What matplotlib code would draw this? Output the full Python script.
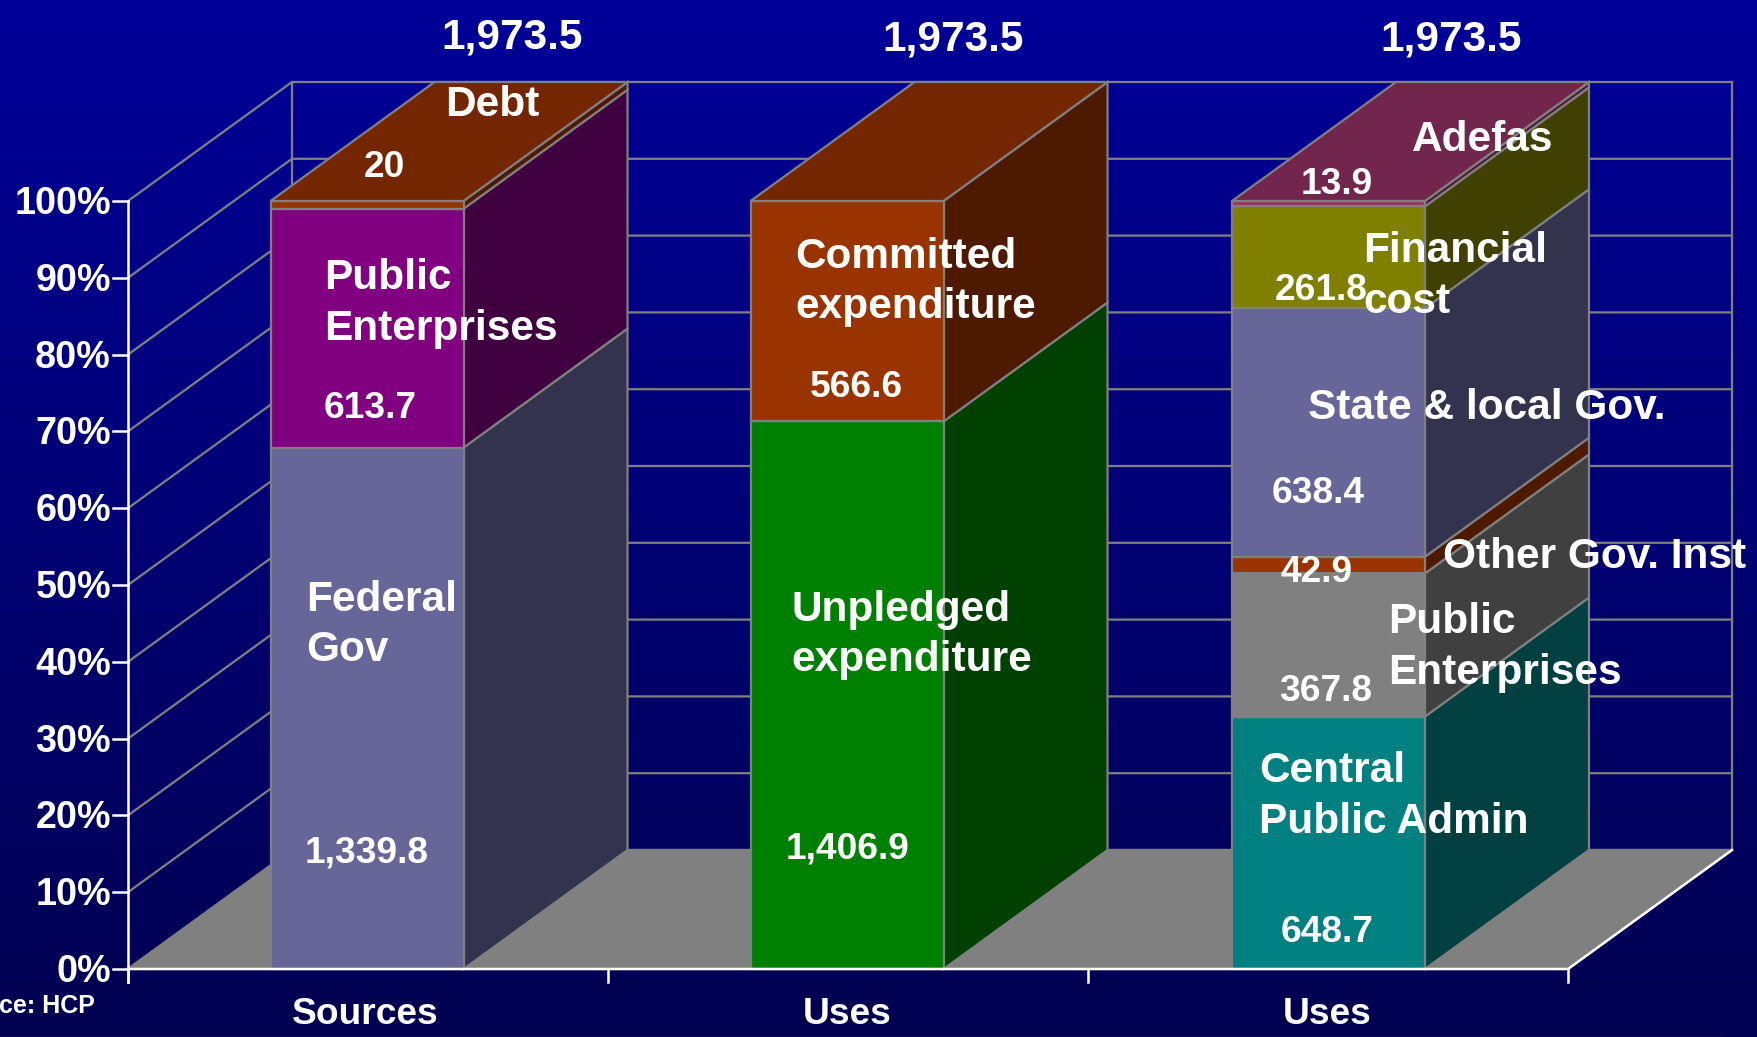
import numpy as np
import matplotlib
matplotlib.use('Agg')
import matplotlib.pyplot as plt
from matplotlib.colors import to_rgb, LinearSegmentedColormap
from matplotlib.patches import Polygon

plt.rcParams['font.family'] = ['Liberation Sans', 'DejaVu Sans']
plt.rcParams['font.weight'] = 'bold'

categories = ['Sources', 'Uses', 'Uses']
totals = ['1,973.5', '1,973.5', '1,973.5']
pct_ticks = [0, 10, 20, 30, 40, 50, 60, 70, 80, 90, 100]

sources_vals = [1339.8, 613.7, 20]
sources_cols = ['#666699', '#800080', '#993300']

uses_vals = [1406.9, 566.6]
uses_cols = ['#008000', '#993300']

uses2_vals = [648.7, 367.8, 42.9, 638.4, 261.8, 13.9]
uses2_cols = ['#008080', '#808080', '#993300', '#666699', '#808000', '#993366']

W, H = 1758, 1037
# pixel position of the front plane, and how far the 3d depth shifts things
X0, X_UNIT = 128, 480
Y0, Y_UNIT = 969, 7.68
DX = 164 / X_UNIT
DY = 119 / Y_UNIT
BAR_W = 0.402
GREY = '#808080'

fig = plt.figure(figsize=(W / 100, H / 100), dpi=100)
ax = fig.add_axes([0, 0, 1, 1])
xlim = (-X0 / X_UNIT, (W - X0) / X_UNIT)
ylim = ((Y0 - H) / Y_UNIT, Y0 / Y_UNIT)
ax.set_xlim(xlim)
ax.set_ylim(ylim)
ax.axis('off')

# background gradient
cmap = LinearSegmentedColormap.from_list('bg', ['#000099', '#000050'])
grad = np.linspace(0, 1, 256).reshape(-1, 1)
ax.imshow(grad, cmap=cmap, aspect='auto', origin='upper',
          extent=(xlim[0], xlim[1], ylim[0], ylim[1]), zorder=0)


def shade(col, f):
    return tuple(c * f for c in to_rgb(col))


def px(x, y):
    # picture coordinates of the shrunk reference -> data, text sits a bit low
    return (x * W / 1568 - X0) / X_UNIT, (Y0 - (y + 2.5) * H / 925) / Y_UNIT


def poly(pts, col, z=3, ec=GREY, lw=1.6):
    ax.add_patch(Polygon(pts, closed=True, fc=col, ec=ec, lw=lw, zorder=z, joinstyle='miter'))


# walls
for p in pct_ticks:
    ax.plot([0, DX, 3 + DX], [p, p + DY, p + DY], color=GREY, lw=1.6, zorder=1)
ax.plot([DX, DX], [DY, 100 + DY], color=GREY, lw=1.6, zorder=1)
ax.plot([3 + DX, 3 + DX], [DY, 100 + DY], color=GREY, lw=1.6, zorder=1)

# floor
poly([(0, 0), (3, 0), (3 + DX, DY), (DX, DY)], GREY, z=2)


def stacked_bar(centre, vals, cols):
    left = centre - BAR_W / 2
    right = left + BAR_W
    total = sum(vals)
    bottom = 0
    for v, c in zip(vals, cols):
        top = bottom + v / total * 100
        poly([(right, bottom), (right + DX, bottom + DY), (right + DX, top + DY), (right, top)],
             shade(c, 0.5))
        poly([(left, bottom), (right, bottom), (right, top), (left, top)], c)
        bottom = top
    poly([(left, 100), (right, 100), (right + DX, 100 + DY), (left + DX, 100 + DY)],
         shade(cols[-1], 0.75))


stacked_bar(0.498, sources_vals, sources_cols)
stacked_bar(1.498, uses_vals, uses_cols)
stacked_bar(2.501, uses2_vals, uses2_cols)

# white axis lines and ticks
tick_x = 15 / X_UNIT
tick_y = 13 / Y_UNIT
ax.plot([0, 0], [-tick_y, 100], color='white', lw=1.8, zorder=4)
ax.plot([0, 3, 3 + DX], [0, 0, DY], color='white', lw=1.8, zorder=4)
for p in pct_ticks:
    ax.plot([-tick_x, 0], [p, p], color='white', lw=1.8, zorder=4)
    ax.text(-17 / X_UNIT, p + 1 / Y_UNIT, '%d%%' % p, color='white', fontsize=27.2,
            ha='right', va='center_baseline', zorder=5)
for i in range(4):
    ax.plot([i, i], [-tick_y, 0], color='white', lw=1.8, zorder=4)

for cat, x in zip(categories, [326, 756, 1184]):
    ax.text(*px(x, 902), cat, color='white', fontsize=26.7, ha='center', va='center', zorder=5)
for t, (x, y) in zip(totals, [(457, 31), (850, 33), (1294, 33)]):
    ax.text(*px(x, y), t, color='white', fontsize=30.5, ha='center', va='center', zorder=5)

# segment names, left aligned
names = [('Debt', 397, 91), ('Public\nEnterprises', 289, 268), ('Federal\nGov', 273, 555),
         ('Committed\nexpenditure', 709, 249), ('Unpledged\nexpenditure', 706, 564),
         ('Adefas', 1259, 122), ('Financial\ncost', 1216, 244), ('State & local Gov.', 1167, 361),
         ('Other Gov. Inst', 1287, 494), ('Public\nEnterprises', 1238, 575),
         ('Central\nPublic Admin', 1123, 708)]
for s, x, y in names:
    ax.text(*px(x, y), s, color='white', fontsize=30.5, ha='left', va='center',
            linespacing=1.34, zorder=5)

# segment values, centred
value_pos = [(sources_vals, [(327, 758), (330, 362), (343, 147)]),
             (uses_vals, [(756, 755), (764, 343)]),
             (uses2_vals, [(1184, 829), (1182, 614), (1174, 508), (1176, 438), (1178, 257), (1192, 162)])]
for vals, pos in value_pos:
    for v, (x, y) in zip(vals, pos):
        s = '%d' % v if v == int(v) else format(v, ',.1f')
        ax.text(*px(x, y), s, color='white', fontsize=26.7, ha='center', va='center', zorder=5)

# source note, only its tail is on the slide
ax.text(*px(85, 895), 'ce: HCP', color='white', fontsize=18, ha='right', va='center', zorder=5)

# thin light strip at the very bottom of the slide
ax.plot([xlim[0], (1722 - X0) / X_UNIT], [(Y0 - 1036.6) / Y_UNIT] * 2, color='#d8d8ec', lw=0.8, zorder=6)

fig.savefig('out.png', dpi=100, facecolor='#000050')
